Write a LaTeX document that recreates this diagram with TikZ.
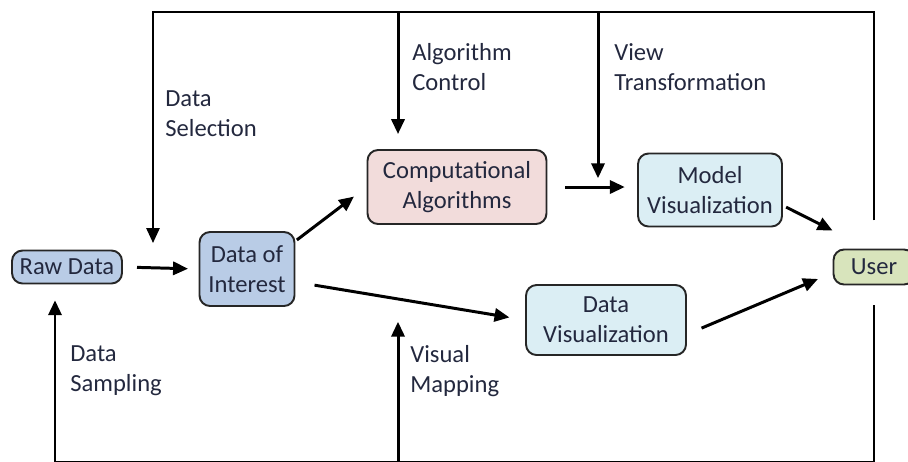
\documentclass[tikz,border=0pt]{standalone}
\usepackage{fontspec}
\setmainfont{Carlito}
\usetikzlibrary{arrows.meta,calc}
\definecolor{rawblue}{RGB}{185,204,230}
\definecolor{algpink}{RGB}{242,220,219}
\definecolor{vispale}{RGB}{219,238,244}
\definecolor{usergreen}{RGB}{216,228,188}
\definecolor{inktext}{RGB}{35,40,62}
\tikzset{
  box/.style={draw=black!85,line width=1.1pt,rounded corners=6pt,align=center,inner sep=1pt,text=inktext},
  flow/.style={line width=1.7pt,-{Triangle[length=8.5pt,width=7.5pt]}},
  loopline/.style={line width=1.2pt},
  lbl/.style={align=left,anchor=west,inner sep=0pt,text=inktext}
}
\begin{document}
\begin{tikzpicture}[x=0.02cm,y=-0.02cm,font=\fontsize{14}{17}\selectfont]
        \useasboundingbox (0,0) rectangle (908,461);
        \node[box,fill=rawblue,minimum width=2.2cm,minimum height=0.66cm] (raw) at (67,267) {Raw Data};
        \node[box,fill=rawblue,minimum width=1.9cm,minimum height=1.48cm] (interest) at (247,269) {Data of\\Interest};
        \node[box,fill=algpink,minimum width=3.58cm,minimum height=1.48cm] (comp) at (457,187) {Computational\\Algorithms};
        \node[box,fill=vispale,minimum width=2.88cm,minimum height=1.46cm] (model) at (710,190) {Model\\Visualization};
        \node[box,fill=vispale,minimum width=3.2cm,minimum height=1.4cm] (datavis) at (606,320) {Data\\Visualization};
        \node[box,fill=usergreen,minimum width=1.62cm,minimum height=0.7cm] (user) at (874,267) {User};

        \coordinate (topleft) at (153,12);
        \coordinate (sel) at (153,243);
        \coordinate (algtop) at (398,12);
        \coordinate (viewtop) at (598,12);
        \coordinate (botleft) at (55,462);
        \coordinate (visbot) at (398,462);

        \draw[flow,shorten <=8pt,shorten >=6pt] (raw.east) -- (interest.west);
        \draw[flow,shorten <=1pt,shorten >=9pt] (interest.30) -- (comp.west);
        \draw[flow,shorten <=11pt,shorten >=9pt] (interest.-15) -- (datavis.west);
        \draw[flow,shorten <=10pt,shorten >=7pt] (comp.east) -- (comp.east -| model.west);
        \draw[flow,shorten <=2pt] (model.-12) -- ($(user.north west)+(0,-18)$);
        \draw[flow,shorten <=9pt,shorten >=9pt] (datavis.-10) -- (user.188);

        \draw[loopline,shorten <=16pt,-{Triangle[length=8.5pt,width=7.5pt]}] (user.north) |- (topleft) -- (sel);
        \draw[flow] (algtop) -- ($(algtop |- comp.north)+(0,-15)$);
        \draw[flow,shorten >=5pt] (viewtop) -- (viewtop |- comp.east);
        \draw[loopline] (user.south) ++(0,20) |- (botleft);
        \draw[flow,shorten >=9pt] (botleft) -- (botleft |- raw.south);
        \draw[flow,shorten >=1pt] (visbot) -- (visbot |- datavis.center);

        \node[lbl] (selection) at (165,114) {Data\\Selection};
        \node[lbl] (control) at (412,67) {Algorithm\\Control};
        \node[lbl] (transform) at (614,67) {View\\Transformation};
        \node[lbl] (sampling) at (70,371) {Data\\Sampling};
        \node[lbl] (mapping) at (410,371) {Visual\\Mapping};
\end{tikzpicture}
\end{document}
